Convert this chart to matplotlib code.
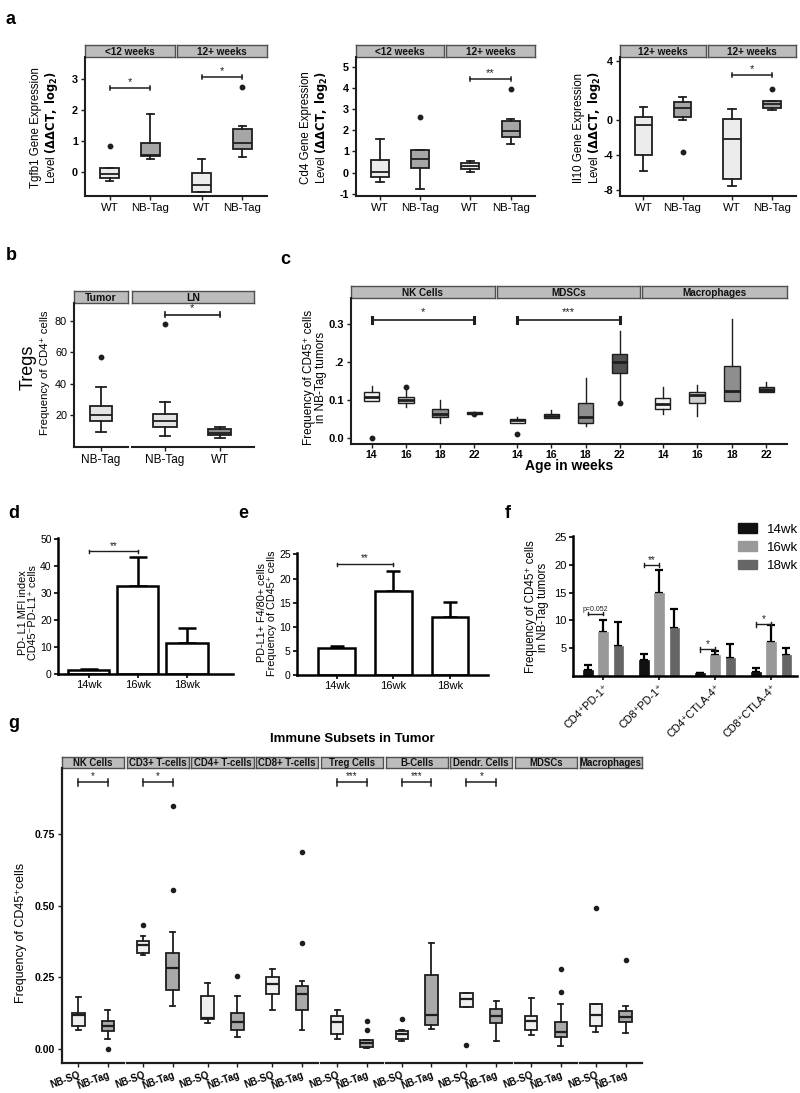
import matplotlib
matplotlib.use('Agg')
import matplotlib.pyplot as plt
from matplotlib.patches import Patch

W, H = 800, 1093
plt.rcParams['font.family'] = ['Liberation Sans', 'DejaVu Sans']
plt.rcParams['axes.linewidth'] = 1.4
fig = plt.figure(figsize=(8, 10.93), dpi=100)

# ---------------- DATA ----------------
# box stats: (whisker_low, q1, median, q3, whisker_high, outliers)
groups_a = ['WT', 'NB-Tag']
tgfb_lt12 = [(-0.3, -0.2, -0.07, 0.12, 0.12, [0.83]), (0.4, 0.5, 0.55, 0.93, 1.87, [])]
tgfb_12p = [(-0.65, -0.65, -0.42, -0.05, 0.42, []), (0.47, 0.72, 0.92, 1.38, 1.47, [2.72])]
cd4_lt12 = [(-0.45, -0.2, 0.05, 0.6, 1.57, []), (-0.75, 0.2, 0.62, 1.05, 1.07, [2.6])]
cd4_12p = [(0.05, 0.18, 0.3, 0.45, 0.55, []), (1.33, 1.7, 1.95, 2.45, 2.55, [3.95])]
il10_f1 = [(-5.8, -3.95, -0.5, 0.35, 1.5, []), (0.1, 0.35, 1.4, 2.1, 2.7, [-3.6])]
il10_f2 = [(-7.5, -6.8, -2.1, 0.2, 1.3, []), (1.15, 1.4, 1.85, 2.2, 2.2, [3.6])]

tregs_tumor = [(9, 16, 20, 25.5, 38, [57])]
tregs_ln = [(6.5, 12.5, 16, 20.5, 28.5, [78]), (5, 7, 8.5, 11, 12, [])]

c_ages = ['14', '16', '18', '22']
nk_stats = [(0.097, 0.097, 0.108, 0.12, 0.136, [0.0]), (0.082, 0.091, 0.099, 0.108, 0.13, [0.134]),
            (0.04, 0.054, 0.064, 0.077, 0.099, []), (0.063, 0.064, 0.066, 0.067, 0.068, [0.062])]
mdsc_stats = [(0.04, 0.04, 0.047, 0.051, 0.055, [0.011]), (0.053, 0.053, 0.058, 0.064, 0.073, []),
              (0.031, 0.038, 0.055, 0.093, 0.158, []), (0.092, 0.171, 0.2, 0.222, 0.28, [0.092])]
mac_stats = [(0.064, 0.077, 0.088, 0.104, 0.135, []), (0.057, 0.092, 0.113, 0.121, 0.14, []),
             (0.098, 0.098, 0.124, 0.189, 0.312, []), (0.121, 0.121, 0.126, 0.135, 0.148, [])]

d_labels = ['14wk', '16wk', '18wk']
d_vals = [1.5, 32.5, 11.5]
d_err = [0.5, 11.0, 5.7]
e_vals = [5.7, 17.4, 12.0]
e_err = [0.4, 4.2, 3.2]

f_groups = ['CD4⁺PD-1⁺', 'CD8⁺PD-1⁺', 'CD4⁺CTLA-4⁺', 'CD8⁺CTLA-4⁺']
f_series = ['14wk', '16wk', '18wk']
f_14 = [1.0, 2.9, 0.5, 0.7]
f_14_err = [1.0, 1.0, 0.0, 0.8]
f_16 = [7.9, 14.9, 3.7, 6.1]
f_16_err = [2.2, 4.2, 0.8, 3.0]
f_18 = [5.4, 8.7, 3.2, 3.7]
f_18_err = [4.4, 3.3, 2.5, 1.4]

g_groups = ['NB-SQ', 'NB-Tag']
g_facets = ['NK Cells', 'CD3+ T-cells', 'CD4+ T-cells', 'CD8+ T-cells', 'Treg Cells',
            'B-Cells', 'Dendr. Cells', 'MDSCs', 'Macrophages']
g_sq = [(0.067, 0.081, 0.12, 0.126, 0.18, []),
        (0.326, 0.335, 0.364, 0.376, 0.395, [0.434]),
        (0.09, 0.105, 0.108, 0.184, 0.23, []),
        (0.137, 0.19, 0.227, 0.251, 0.279, []),
        (0.035, 0.051, 0.093, 0.114, 0.135, []),
        (0.027, 0.033, 0.052, 0.062, 0.067, [0.106]),
        (0.147, 0.147, 0.174, 0.195, 0.195, [0.013]),
        (0.05, 0.065, 0.097, 0.114, 0.178, []),
        (0.059, 0.079, 0.12, 0.158, 0.158, [0.492])]
g_tag = [(0.035, 0.062, 0.079, 0.097, 0.135, [0.0]),
         (0.151, 0.205, 0.283, 0.335, 0.407, [0.553, 0.849]),
         (0.042, 0.067, 0.093, 0.126, 0.184, [0.256]),
         (0.067, 0.137, 0.193, 0.221, 0.238, [0.37, 0.688]),
         (0.003, 0.007, 0.021, 0.03, 0.03, [0.067, 0.097]),
         (0.07, 0.085, 0.12, 0.259, 0.37, []),
         (0.027, 0.091, 0.114, 0.14, 0.166, []),
         (0.009, 0.041, 0.058, 0.093, 0.157, [0.198, 0.279]),
         (0.056, 0.093, 0.112, 0.134, 0.149, [0.312])]
g_sig = ['*', '*', '', '', '***', '***', '*', '', '']

# ---------------- HELPERS ----------------
EC = '#1e1e1e'


def add_ax(x0, y0, x1, y1):
    return fig.add_axes([x0 / W, 1 - y1 / H, (x1 - x0) / W, (y1 - y0) / H])


def strip(x0, y0, x1, y1, text, fs=7.2):
    a = add_ax(x0, y0, x1, y1)
    a.set_xticks([]); a.set_yticks([])
    a.set_facecolor('#bcbcbc')
    for s in a.spines.values():
        s.set_color('#505050'); s.set_linewidth(1.0)
    a.text(0.5, 0.45, text, ha='center', va='center', fontsize=fs, fontweight='bold',
           transform=a.transAxes, clip_on=True, color='#111')
    return a


def facet(x0, y0, x1, y1, xlim, ylim, left=True, lw=1.5):
    ax = add_ax(x0, y0, x1, y1)
    ax.set_xlim(*xlim); ax.set_ylim(*ylim)
    ax.patch.set_alpha(0)
    ax.spines['top'].set_visible(False)
    ax.spines['right'].set_visible(False)
    ax.spines['bottom'].set_linewidth(lw)
    ax.spines['left'].set_linewidth(lw)
    ax.spines['bottom'].set_color(EC)
    ax.spines['left'].set_color(EC)
    ax.tick_params(length=3, width=1, color=EC, pad=2)
    if not left:
        ax.spines['left'].set_visible(False)
        ax.tick_params(axis='y', left=False, labelleft=False)
    return ax


def boxes(ax, stats, colors, width=0.45, lw=1.3, mlw=None, ms=3.2, capw=None):
    bx = [dict(whislo=s[0], q1=s[1], med=s[2], q3=s[3], whishi=s[4], fliers=s[5]) for s in stats]
    pos = list(range(1, len(stats) + 1))
    r = ax.bxp(bx, positions=pos, widths=width, patch_artist=True, showcaps=True,
               capwidths=capw if capw is not None else width * 0.4,
               boxprops=dict(linewidth=lw, edgecolor=EC),
               medianprops=dict(color=EC, linewidth=mlw if mlw else lw),
               whiskerprops=dict(color=EC, linewidth=lw),
               capprops=dict(color=EC, linewidth=lw),
               flierprops=dict(marker='o', markerfacecolor=EC, markeredgecolor=EC, markersize=ms))
    for p, c in zip(r['boxes'], colors):
        p.set_facecolor(c)
    return r


def bracket(ax, x1, x2, y, text, cap, fs=8, lw=1.2, off=0.0, clw=None):
    ax.plot([x1, x2], [y, y], color=EC, lw=lw, clip_on=False)
    for x in (x1, x2):
        ax.plot([x, x], [y - cap, y + cap], color=EC, lw=clw if clw else lw, clip_on=False)
    ax.text((x1 + x2) / 2, y + off, text, ha='center', va='bottom', fontsize=fs, color=EC)


def plabel(x, y, t):
    fig.text(x / W, 1 - y / H, t, fontsize=13, fontweight='bold', ha='left', va='center')


def ylab(x, y, t, fs=8.5):
    fig.text(x / W, 1 - y / H, t, rotation=90, ha='center', va='center', fontsize=fs,
             multialignment='center', linespacing=1.05)


# ---------------- PANEL a ----------------
plabel(6, 20, 'a')
ca = ['#ececec', '#a6a6a6']


def panel_a(fx, ylim, yticks, yticklabels, data1, data2, titles, sig1, sig2, lbl, lblx):
    (a0, a1), (b0, b1) = fx
    strip(a0, 45, a1, 57, titles[0])
    strip(b0, 45, b1, 57, titles[1])
    axs = []
    for i, ((x0, x1), data, sig) in enumerate(zip(fx, (data1, data2), (sig1, sig2))):
        ax = facet(x0, 57, x1, 196, (0.4, 2.6), ylim, left=(i == 0))
        boxes(ax, data, ca, width=0.45, lw=1.3)
        ax.set_xticks([1, 2])
        ax.set_xticklabels(groups_a, fontsize=8.2)
        ax.set_yticks(yticks)
        if i == 0:
            ax.set_yticklabels(yticklabels, fontsize=7.8, fontweight='bold')
        if sig:
            rng = ylim[1] - ylim[0]
            bracket(ax, 1, 2, sig[0], sig[1], rng * 0.015, fs=8, lw=1.1, off=rng * 0.01)
        axs.append(ax)
    ylab(lblx, 128, lbl, fs=8.3)
    return axs


panel_a([(85, 175), (177, 267)], (-0.78, 3.7), [0, 1, 2, 3], ['0', '1', '2', '3'],
        tgfb_lt12, tgfb_12p, ['<12 weeks', '12+ weeks'], (2.7, '*'), (3.05, '*'),
        'Tgfb1 Gene Expression\nLevel ' + r'$\mathbf{(\Delta\Delta CT,\ log_2)}$', 45)
panel_a([(356, 444), (446, 535)], (-1.1, 5.45), [-1, 0, 1, 2, 3, 4, 5],
        ['-1', '0', '1', '2', '3', '4', '5'],
        cd4_lt12, cd4_12p, ['<12 weeks', '12+ weeks'], None, (4.4, '**'),
        'Cd4 Gene Expression\nLevel ' + r'$\mathbf{(\Delta\Delta CT,\ log_2)}$', 315)
panel_a([(620, 706), (708, 796)], (-8.7, 7.3), [6.85, 0, -4, -8], ['4', '0', '-4', '-8'],
        il10_f1, il10_f2, ['12+ weeks', '12+ weeks'], None, (5.2, '*'),
        'Il10 Gene Expression\nLevel ' + r'$\mathbf{(\Delta\Delta CT,\ log_2)}$', 588)

# ---------------- PANEL b ----------------
plabel(6, 256, 'b')
strip(74, 291, 128, 303, 'Tumor', fs=7.5)
strip(132, 291, 254, 303, 'LN', fs=7.5)
axb1 = facet(74, 303, 128, 447, (0.5, 1.5), (-0.5, 91.5))
boxes(axb1, tregs_tumor, ['#e4e4e4'], width=0.42, lw=1.3)
axb1.set_xticks([1]); axb1.set_xticklabels(['NB-Tag'], fontsize=8.5)
axb1.set_yticks([20, 40, 60, 80]); axb1.set_yticklabels(['20', '40', '60', '80'], fontsize=7.8)
axb2 = facet(132, 303, 254, 447, (0.4, 2.62), (-0.5, 91.5), left=False)
boxes(axb2, tregs_ln, ['#e4e4e4', '#8c8c8c'], width=0.42, lw=1.3)
axb2.set_xticks([1, 2]); axb2.set_xticklabels(['NB-Tag', 'WT'], fontsize=8.5)
bracket(axb2, 1, 2, 84, '*', 1.6, fs=8, lw=1.2, off=1.0)
fig.text(28 / W, 1 - 367 / H, 'Tregs', rotation=90, ha='center', va='center', fontsize=13)
ylab(45, 373, 'Frequency of CD4⁺ cells', fs=8.2)

# ---------------- PANEL c ----------------
plabel(280, 260, 'c')
c_colors = ['#f2f2f2', '#cdcdcd', '#8e8e8e', '#505050']
c_fx = [(351, 495), (497, 640), (642, 787)]
c_titles = ['NK Cells', 'MDSCs', 'Macrophages']
c_data = [nk_stats, mdsc_stats, mac_stats]
c_sig = [(0.31, '*'), (0.31, '***'), None]
for i, ((x0, x1), t, dat, sg) in enumerate(zip(c_fx, c_titles, c_data, c_sig)):
    strip(x0, 286, x1, 298, t, fs=7.2)
    ax = facet(x0, 298, x1, 444, (0.4, 4.6), (-0.016, 0.368), left=(i == 0))
    boxes(ax, dat, c_colors, width=0.45, lw=1.0, mlw=2.0, ms=3.2, capw=0.0)
    ax.set_xticks([1, 2, 3, 4])
    ax.tick_params(axis='x', pad=1.5)
    ax.set_xticklabels(c_ages, fontsize=7.6, fontweight='bold')
    if i == 0:
        ax.set_yticks([0.0, 0.1, 0.2, 0.3])
        ax.set_yticklabels(['0.0', '0.1', '.2', '0.3'], fontsize=8, fontweight='bold')
    if sg:
        bracket(ax, 1, 4, sg[0], sg[1], 0.007, fs=8, lw=1.2, off=0.008, clw=2.2)
fig.text(569 / W, 1 - 466 / H, 'Age in weeks', ha='center', va='center', fontsize=10, fontweight='bold')
ylab(315, 377, 'Frequency of CD45⁺ cells\nin NB-Tag tumors', fs=8.5)


# ---------------- PANEL d / e ----------------
def bar_panel(rect, xlim, ylim, yticks, vals, errs, width, capsize, sig):
    ax = add_ax(*rect)
    ax.set_xlim(*xlim); ax.set_ylim(*ylim)
    ax.spines['top'].set_visible(False); ax.spines['right'].set_visible(False)
    ax.spines['left'].set_linewidth(1.8); ax.spines['bottom'].set_linewidth(1.8)
    x = list(range(len(vals)))
    ax.errorbar(x, vals, yerr=[[0] * len(vals), errs], fmt='none', ecolor='k', elinewidth=1.8,
                capsize=capsize, capthick=1.8, zorder=1)
    ax.bar(x, vals, width=width, color='white', edgecolor='k', linewidth=1.8, zorder=2)
    ax.set_xticks(x); ax.set_xticklabels(d_labels, fontsize=8)
    ax.set_yticks(yticks); ax.set_yticklabels([str(t) for t in yticks], fontsize=7.5)
    ax.tick_params(length=3, width=1.2, pad=1.5)
    rng = ylim[1] - ylim[0]
    bracket(ax, 0, 1, sig, '**', rng * 0.012, fs=7, lw=1.0, off=rng * 0.005)
    return ax


plabel(8, 513, 'd')
bar_panel((58, 538, 233, 674), (-0.63, 2.94), (0, 50.5), [0, 10, 20, 30, 40, 50],
          d_vals, d_err, 0.84, 6.5, 45.5)
ylab(28, 613, 'PD- L1 MFI index\nCD45⁻PD-L1⁺ cells', fs=7.8)

plabel(238, 513, 'e')
bar_panel((297, 553, 488, 675), (-0.7, 2.67), (0, 25.3), [0, 5, 10, 15, 20, 25],
          e_vals, e_err, 0.65, 5, 23)
ylab(267, 613, 'PD-L1+ F4/80+ cells\nFrequency of CD45⁺ cells', fs=7.8)

# ---------------- PANEL f ----------------
plabel(505, 513, 'f')
axf = add_ax(573, 536, 797, 676)
axf.set_xlim(-0.54, 3.46); axf.set_ylim(0, 25.2)
axf.spines['top'].set_visible(False); axf.spines['right'].set_visible(False)
axf.spines['left'].set_linewidth(1.8); axf.spines['bottom'].set_linewidth(1.8)
f_colors = ['#111111', '#999999', '#666666']
xs = list(range(len(f_groups)))
off = 0.27
for k, (vals, errs, col, lab) in enumerate(zip([f_14, f_16, f_18], [f_14_err, f_16_err, f_18_err],
                                                  f_colors, f_series)):
    xx = [x + (k - 1) * off for x in xs]
    axf.errorbar(xx, vals, yerr=[[0] * 4, errs], fmt='none', ecolor='k', elinewidth=1.6,
                 capsize=3, capthick=1.6, zorder=1)
    axf.bar(xx, vals, width=0.17, color=col, edgecolor=col, linewidth=0.5, zorder=2, label=lab)
axf.set_xticks(xs)
axf.set_xticklabels(f_groups, rotation=45, ha='right', rotation_mode='anchor', fontsize=7.8)
axf.set_yticks([5, 10, 15, 20, 25]); axf.set_yticklabels(['5', '10', '15', '20', '25'], fontsize=8)
axf.tick_params(length=3, width=1.2, pad=1.5)
bracket(axf, -off, 0, 11.2, 'p=0.052', 0.3, fs=5, lw=1.0, off=0.1)
bracket(axf, 1 - off, 1, 20.0, '**', 0.4, fs=7, lw=1.0, off=0.05)
bracket(axf, 2 - off, 2, 4.8, '*', 0.4, fs=7, lw=1.0, off=0.05)
bracket(axf, 3 - off, 3, 9.3, '*', 0.4, fs=7, lw=1.0, off=0.05)
handles = [Patch(facecolor=c, edgecolor=c) for c in f_colors]
axf.legend(handles, f_series, loc='upper left', bbox_to_anchor=(733 / W, 1 - 518 / H),
           bbox_transform=fig.transFigure, frameon=False, fontsize=9.5, handlelength=1.4,
           handleheight=0.7, labelspacing=0.45, borderaxespad=0, handletextpad=0.8)
ylab(537, 607, 'Frequency of CD45⁺ cells\nin NB-Tag tumors', fs=8.3)

# ---------------- PANEL g ----------------
plabel(8, 723, 'g')
fig.text(352 / W, 1 - 739 / H, 'Immune Subsets in Tumor', ha='center', va='center',
         fontsize=9.5, fontweight='bold')
gx0, gw, gg = 62.0, 62.2, 2.5
for i, (t, sq, tg, sg) in enumerate(zip(g_facets, g_sq, g_tag, g_sig)):
    x0 = gx0 + i * (gw + gg)
    x1 = x0 + gw
    strip(x0, 757, x1, 768, t, fs=6.9)
    ax = facet(x0, 768, x1, 1063, (0.45, 2.55), (-0.049, 0.98), left=(i == 0), lw=1.6)
    boxes(ax, [sq, tg], ['#efefef', '#a9a9a9'], width=0.42, lw=1.3, mlw=1.6, ms=3.0)
    ax.set_xticks([1, 2])
    ax.set_xticklabels(g_groups, rotation=20, ha='right', rotation_mode='anchor',
                       fontsize=7, fontweight='bold')
    if i == 0:
        ax.set_yticks([0.0, 0.25, 0.5, 0.75])
        ax.set_yticklabels(['0.00', '0.25', '0.50', '0.75'], fontsize=7.5, fontweight='bold')
    if sg:
        bracket(ax, 1, 2, 0.93, sg, 0.012, fs=7, lw=1.1, off=0.006)
ylab(21, 933, 'Frequency of CD45⁺cells', fs=9)

fig.savefig('out.png', dpi=100)
